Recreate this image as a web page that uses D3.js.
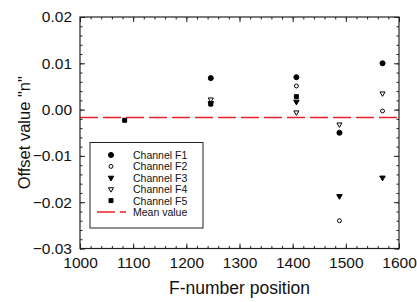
<!DOCTYPE html>
<html><head><meta charset="utf-8">
<script src="https://cdn.jsdelivr.net/npm/d3@7"></script>
<style>body{margin:0;background:#fff}text{font-family:"Liberation Sans",Arial,sans-serif}</style>
</head><body><svg id="c" width="417" height="302"></svg>
<script>
const positions = [1084, 1246, 1407, 1488, 1569];
const channelF1 = [null, 0.0068, 0.0070, -0.0050, 0.0100];
const channelF2 = [null, 0.0013, 0.0051, -0.0240, -0.0003];
const channelF3 = [null, 0.0014, 0.0017, -0.0187, -0.0147];
const channelF4 = [null, 0.0022, -0.0006, -0.0032, 0.0035];
const channelF5 = [-0.0023, 0.0012, 0.0028, null, null];
const meanValue = -0.0017;
const xTicks = [1000, 1100, 1200, 1300, 1400, 1500, 1600];
const yTicks = [-0.03, -0.02, -0.01, 0.00, 0.01, 0.02];
const seriesNames = ["Channel F1","Channel F2","Channel F3","Channel F4","Channel F5"];

const svg = d3.select("#c");
const L=80, R=399, T=17, B=248.5;
const x = d3.scaleLinear().domain([1000,1600]).range([L,R]);
const y = d3.scaleLinear().domain([-0.03,0.02]).range([B,T]);
const col="#222";

svg.append("line").attr("x1",L).attr("x2",R).attr("y1",y(meanValue)).attr("y2",y(meanValue))
  .attr("stroke","#e8202a").attr("stroke-width",1.4).attr("stroke-dasharray","18,5");

const minorX = d3.range(1000,1601,20), minorY = d3.range(-0.03,0.0201,0.002);
svg.append("g").attr("transform",`translate(0,${B})`)
  .call(d3.axisBottom(x).tickValues(xTicks).tickSize(-5).tickPadding(8).tickFormat(d3.format("d")));
svg.append("g").attr("transform",`translate(0,${B})`)
  .call(d3.axisBottom(x).tickValues(minorX).tickSize(-2.5).tickFormat(""));
svg.append("g").attr("transform",`translate(0,${T})`)
  .call(d3.axisTop(x).tickValues(xTicks).tickSize(-5).tickFormat(""));
svg.append("g").attr("transform",`translate(0,${T})`)
  .call(d3.axisTop(x).tickValues(minorX).tickSize(-2.5).tickFormat(""));
svg.append("g").attr("transform",`translate(${L},0)`)
  .call(d3.axisLeft(y).tickValues(yTicks).tickSize(-5).tickPadding(8).tickFormat(d3.format(".2f")));
svg.append("g").attr("transform",`translate(${L},0)`)
  .call(d3.axisLeft(y).tickValues(minorY).tickSize(-2.5).tickFormat(""));
svg.append("g").attr("transform",`translate(${R},0)`)
  .call(d3.axisRight(y).tickValues(yTicks).tickSize(-5).tickFormat(""));
svg.append("g").attr("transform",`translate(${R},0)`)
  .call(d3.axisRight(y).tickValues(minorY).tickSize(-2.5).tickFormat(""));
svg.selectAll(".domain").remove();
svg.selectAll(".tick line").attr("stroke",col).attr("stroke-width",1);
svg.selectAll(".tick text").attr("font-size",15.5).attr("fill","#111")
  .attr("font-family","Liberation Sans, Arial, sans-serif");
svg.append("rect").attr("x",L).attr("y",T).attr("width",R-L).attr("height",B-T)
  .attr("fill","none").attr("stroke",col).attr("stroke-width",1.2);

svg.append("text").attr("x",(L+R)/2).attr("y",294).attr("text-anchor","middle")
  .attr("font-size",17.5).attr("fill","#111").text("F-number position");
svg.append("text").attr("transform",`translate(30,${(T+B)/2}) rotate(-90)`).attr("text-anchor","middle")
  .attr("font-size",16.5).attr("fill","#111").text('Offset value "n"');

const sym = [
  {type:d3.symbolCircle, size:20, fill:"#000"},
  {type:d3.symbolCircle, size:12, fill:"#fff"},
  {type:d3.symbolTriangle, size:13, fill:"#000", rot:180},
  {type:d3.symbolTriangle, size:11, fill:"#fff", rot:180},
  {type:d3.symbolSquare, size:16, fill:"#000"}
];
const allSeries=[channelF1,channelF2,channelF3,channelF4,channelF5];
allSeries.forEach((s,i)=>{
  const pts = positions.map((p,j)=>({p,v:s[j]})).filter(d=>d.v!==null);
  svg.append("g").selectAll("path").data(pts).join("path")
    .attr("d",d3.symbol().type(sym[i].type).size(sym[i].size))
    .attr("transform",d=>`translate(${x(d.p)},${y(d.v)}) rotate(${sym[i].rot||0})`)
    .attr("fill",sym[i].fill).attr("stroke","#000").attr("stroke-width",1);
});

const lg = svg.append("g");
lg.append("rect").attr("x",90).attr("y",142.5).attr("width",113).attr("height",85.5)
  .attr("fill","#fff").attr("stroke",col).attr("stroke-width",1);
const rowY = d3.scaleLinear().domain([0,5]).range([155,212]);
seriesNames.forEach((n,i)=>{
  lg.append("path").attr("d",d3.symbol().type(sym[i].type).size(sym[i].size))
    .attr("transform",`translate(111,${rowY(i)}) rotate(${sym[i].rot||0})`)
    .attr("fill",sym[i].fill).attr("stroke","#000").attr("stroke-width",1);
  lg.append("text").attr("x",133).attr("y",rowY(i)+4).attr("font-size",10.5).attr("fill","#111").text(n);
});
lg.append("line").attr("x1",97).attr("x2",126).attr("y1",rowY(5)).attr("y2",rowY(5))
  .attr("stroke","#e8202a").attr("stroke-width",1.4).attr("stroke-dasharray","18,5");
lg.append("text").attr("x",133).attr("y",rowY(5)+4).attr("font-size",10.5).attr("fill","#111").text("Mean value");
</script></body></html>
